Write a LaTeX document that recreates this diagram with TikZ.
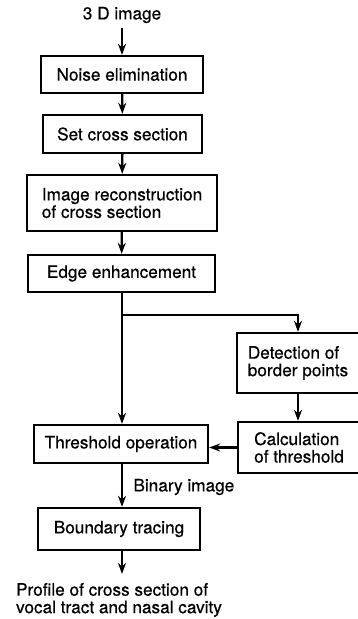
\documentclass[tikz,border=0pt]{standalone}
\usepackage{fontspec}
\setmainfont{TeX Gyre Heros}[FakeBold=0.6]
\usetikzlibrary{arrows.meta}

\begin{document}
\begin{tikzpicture}[x=1pt, y=-1pt, line width=2.3pt,
    font=\fontsize{17.2}{17.5}\selectfont,
    box/.style={draw, inner sep=0pt, align=left},
    >={Stealth[length=11pt,width=8pt,inset=3.5pt]}]
  \useasboundingbox (0,0) rectangle (358,619);
  \node(img)    at (122, 15)    {3 D image};
  \node[box, minimum width=162, minimum height=37](noise)  at (122, 74.5) {Noise elimination};
  \node[box, minimum width=159, minimum height=38](cross)  at (122.5, 134) {Set cross section};
  \node[box, minimum width=190, minimum height=56](recon)  at (122, 203) {Image reconstruction\\of cross section};
  \node[box, minimum width=187, minimum height=37](edge)   at (121.5, 273.5) {Edge enhancement};
  \node[box, minimum width=122, minimum height=60](detect) at (298, 363) {Detection of\\border points};
  \node[box, minimum width=122, minimum height=51](calc)   at (299, 447.5) {Calculation\\of threshold};
  \node[box, minimum width=174, minimum height=38](thresh) at (121, 444) {Threshold operation};
  \node[box, minimum width=162, minimum height=42](trace)  at (119, 529) {Boundary tracing};
  \node[anchor=west](bin) at (129, 487) {Binary image};
  \node[align=left, inner sep=2pt](prof) at (119, 600) {Profile of cross section of\\vocal tract and nasal cavity};
  \coordinate(br) at (122, 315);

  \draw[->] (img) -- (noise);
  \draw[->] (noise) -- (cross);
  \draw[->] (cross) -- (recon);
  \draw[->] (recon) -- (edge);
  \draw[->] (edge.south -| br) -- (thresh.north -| br);
  \draw[->] (br) -| (detect.north);
  \draw[->] (detect.south) -- (detect.south |- calc.north);
  \draw[->] (calc.west) -- (calc.west -| thresh.east);
  \draw[->] (thresh.south -| br) -- (trace.north -| br);
  \draw[->] (trace.south -| br) -- ([yshift=6]prof.north -| br);
\end{tikzpicture}
\end{document}
